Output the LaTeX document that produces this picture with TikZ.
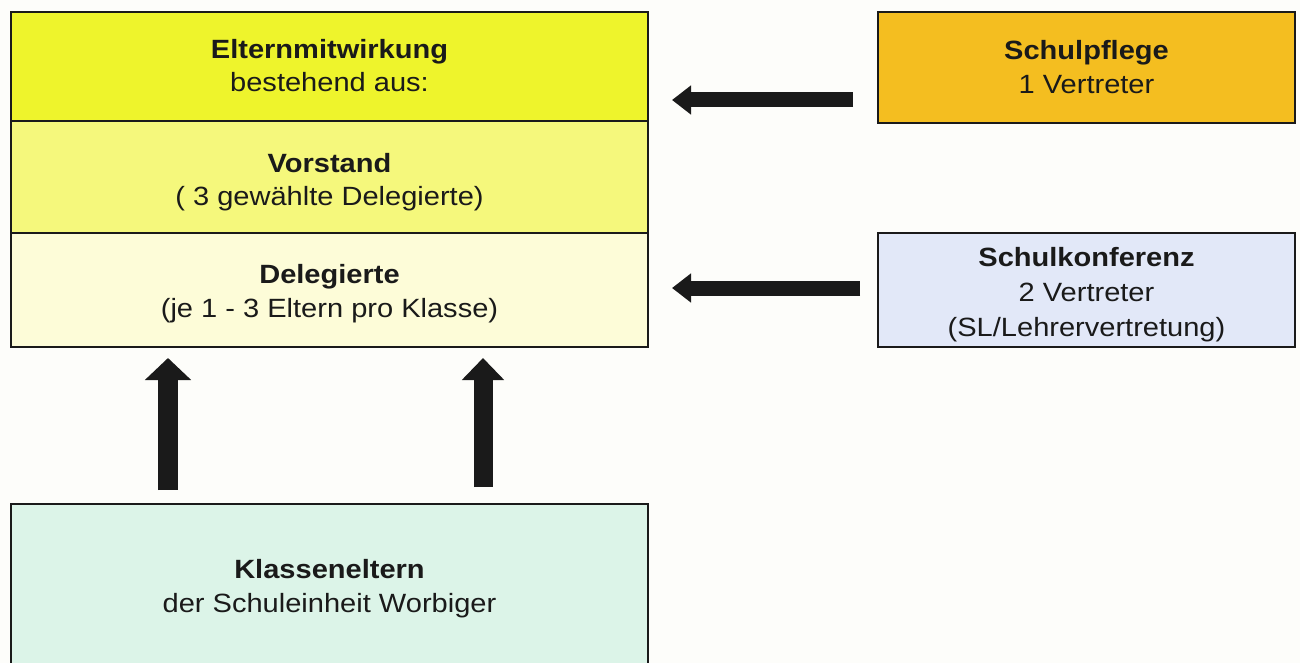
\documentclass[tikz,border=0pt]{standalone}
\usepackage{fontspec}
\setmainfont{Liberation Sans}[FakeStretch=1.1]
\usetikzlibrary{arrows.meta}
\definecolor{bgc}{HTML}{FDFDFA}
\definecolor{ctop}{HTML}{EEF42C}
\definecolor{cmid}{HTML}{F5F87C}
\definecolor{clow}{HTML}{FDFCD8}
\definecolor{cpfl}{HTML}{F4BE20}
\definecolor{ckon}{HTML}{E2E8F8}
\definecolor{ckla}{HTML}{DCF4E8}
\definecolor{ink}{HTML}{1A1A1A}
\begin{document}
\begin{tikzpicture}[x=1pt,y=-1pt,
  box/.style={draw=ink, line width=1.5pt, rectangle, inner sep=0pt, outer sep=0pt},
  txt/.style={anchor=base, inner sep=0pt, text=ink, font=\fontsize{26.4}{34}\selectfont},
  harrow/.style={draw=ink, line width=15pt, -{Triangle[length=19pt,width=28pt]}},
  varrow/.style={draw=ink, line width=20pt, -{Triangle[length=22pt,width=45pt]}}]
\useasboundingbox[fill=bgc] (0,0) rectangle (1300,663);
\clip (0,0) rectangle (1300,663);
% main stacked box
\node[box, fill=ctop, minimum width=637pt, minimum height=109pt] (top) at (329.5,66.5) {};
\node[box, fill=cmid, minimum width=637pt, minimum height=112pt] (mid) at (329.5,177) {};
\node[box, fill=clow, minimum width=637pt, minimum height=114pt] (low) at (329.5,290) {};
% right boxes
\node[box, fill=cpfl, minimum width=417pt, minimum height=111pt] (pfl) at (1086.5,67.5) {};
\node[box, fill=ckon, minimum width=417pt, minimum height=114pt] (kon) at (1086.5,290) {};
% bottom box
\node[box, fill=ckla, minimum width=637pt, minimum height=176pt] (kla) at (329.5,592) {};
% texts
\node[txt] (t1a) at (329.5,59) {\bfseries Elternmitwirkung};
\node[txt] (t1b) at (329.5,92) {bestehend aus:};
\node[txt] (t2a) at (329.5,172) {\bfseries Vorstand};
\node[txt] (t2b) at (329.5,205) {( 3 gewählte Delegierte)};
\node[txt] (t3a) at (329.5,283) {\bfseries Delegierte};
\node[txt] (t3b) at (329.5,317) {(je 1 - 3 Eltern pro Klasse)};
\node[txt] (p1) at (1086.5,60) {\bfseries Schulpflege};
\node[txt] (p2) at (1086.5,94) {1 Vertreter};
\node[txt] (k1) at (1086.5,266) {\bfseries Schulkonferenz};
\node[txt] (k2) at (1086.5,301) {2 Vertreter};
\node[txt] (k3) at (1086.5,336) {(SL/Lehrervertretung)};
\node[txt] (c1) at (329.5,578) {\bfseries Klasseneltern};
\node[txt] (c2) at (329.5,612) {der Schuleinheit Worbiger};
% arrows
\coordinate (a1s) at (853,100);
\coordinate (a1e) at (672,100);
\coordinate (a2s) at (860,288);
\coordinate (a2e) at (672,288);
\coordinate (a3s) at (168,490);
\coordinate (a3e) at (168,358);
\coordinate (a4s) at (483,487);
\coordinate (a4e) at (483,358);
\draw[harrow] (a1s) -- (a1e);
\draw[harrow] (a2s) -- (a2e);
\draw[varrow] (a3s) -- (a3e);
\draw[varrow, line width=19pt, -{Triangle[length=22pt,width=41pt]}] (a4s) -- (a4e);
\end{tikzpicture}
\end{document}
